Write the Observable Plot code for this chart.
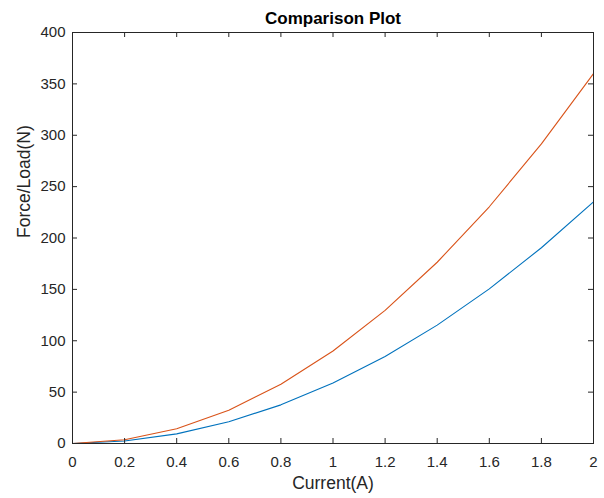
<!DOCTYPE html>
<html>
<head>
<meta charset="utf-8">
<script src="https://cdn.jsdelivr.net/npm/d3@7"></script>
<script src="https://cdn.jsdelivr.net/npm/@observablehq/plot@0.6"></script>
<style>
  html, body { margin: 0; padding: 0; background: #fff; }
  #chart svg { display: block; }
</style>
</head>
<body>
<div id="chart"></div>
<script>
// Data
const current = [0, 0.2, 0.4, 0.6, 0.8, 1.0, 1.2, 1.4, 1.6, 1.8, 2.0];
const seriesOrange = [0, 3.6, 14.4, 32.4, 57.6, 90, 129.6, 176.4, 230.4, 291.6, 360];
const seriesBlue = [0, 2.4, 9.4, 21.2, 37.6, 58.8, 84.7, 115.2, 150.5, 190.5, 235.2];
const xTicks = [0, 0.2, 0.4, 0.6, 0.8, 1, 1.2, 1.4, 1.6, 1.8, 2];
const yTicks = [0, 50, 100, 150, 200, 250, 300, 350, 400];
const titleText = "Comparison Plot";
const xLabel = "Current(A)";
const yLabel = "Force/Load(N)";

const W = 604, H = 498;
const mL = 72, mR = 11, mT = 32, mB = 55;
const frameW = W - mL - mR, frameH = H - mT - mB;
const tickLen = 5;
const axisColor = "#262626";
const font = "'Liberation Sans', Arial, Helvetica, sans-serif";

const rows = current.map((c, i) => ({c, blue: seriesBlue[i], orange: seriesOrange[i]}));

const chart = Plot.plot({
  width: W,
  height: H,
  marginLeft: mL,
  marginRight: mR,
  marginTop: mT,
  marginBottom: mB,
  style: {fontFamily: font, background: "#fff", color: axisColor},
  x: {domain: [0, 2]},
  y: {domain: [0, 400]},
  marks: [
    Plot.line(rows, {x: "c", y: "blue", stroke: "#0072BD", strokeWidth: 1.1}),
    Plot.line(rows, {x: "c", y: "orange", stroke: "#D95319", strokeWidth: 1.1}),
    // inward ticks on all four sides
    Plot.tickX(xTicks, {x: d => d, stroke: axisColor, insetTop: frameH - tickLen}),
    Plot.tickX(xTicks, {x: d => d, stroke: axisColor, insetBottom: frameH - tickLen}),
    Plot.tickY(yTicks, {y: d => d, stroke: axisColor, insetRight: frameW - tickLen}),
    Plot.tickY(yTicks, {y: d => d, stroke: axisColor, insetLeft: frameW - tickLen}),
    Plot.frame({stroke: axisColor, strokeWidth: 1}),
    Plot.axisX(xTicks, {tickSize: 0, tickPadding: 13, fontSize: 15, fill: axisColor, label: null, tickFormat: d => String(d)}),
    Plot.axisY(yTicks, {tickSize: 0, tickPadding: 7, fontSize: 15, fill: axisColor, label: null, tickFormat: d => String(d)}),
    Plot.text([titleText], {text: d => d, frameAnchor: "top", lineAnchor: "bottom", dy: -9, fontSize: 17, fontWeight: "bold", fill: "#000"}),
    Plot.text([xLabel], {text: d => d, frameAnchor: "bottom", lineAnchor: "middle", dy: 40, fontSize: 17.5, fill: axisColor}),
    Plot.text([yLabel], {text: d => d, frameAnchor: "left", lineAnchor: "middle", rotate: -90, dx: -48, fontSize: 17.5, fill: axisColor})
  ]
});

document.getElementById("chart").appendChild(chart);
</script>
</body>
</html>
